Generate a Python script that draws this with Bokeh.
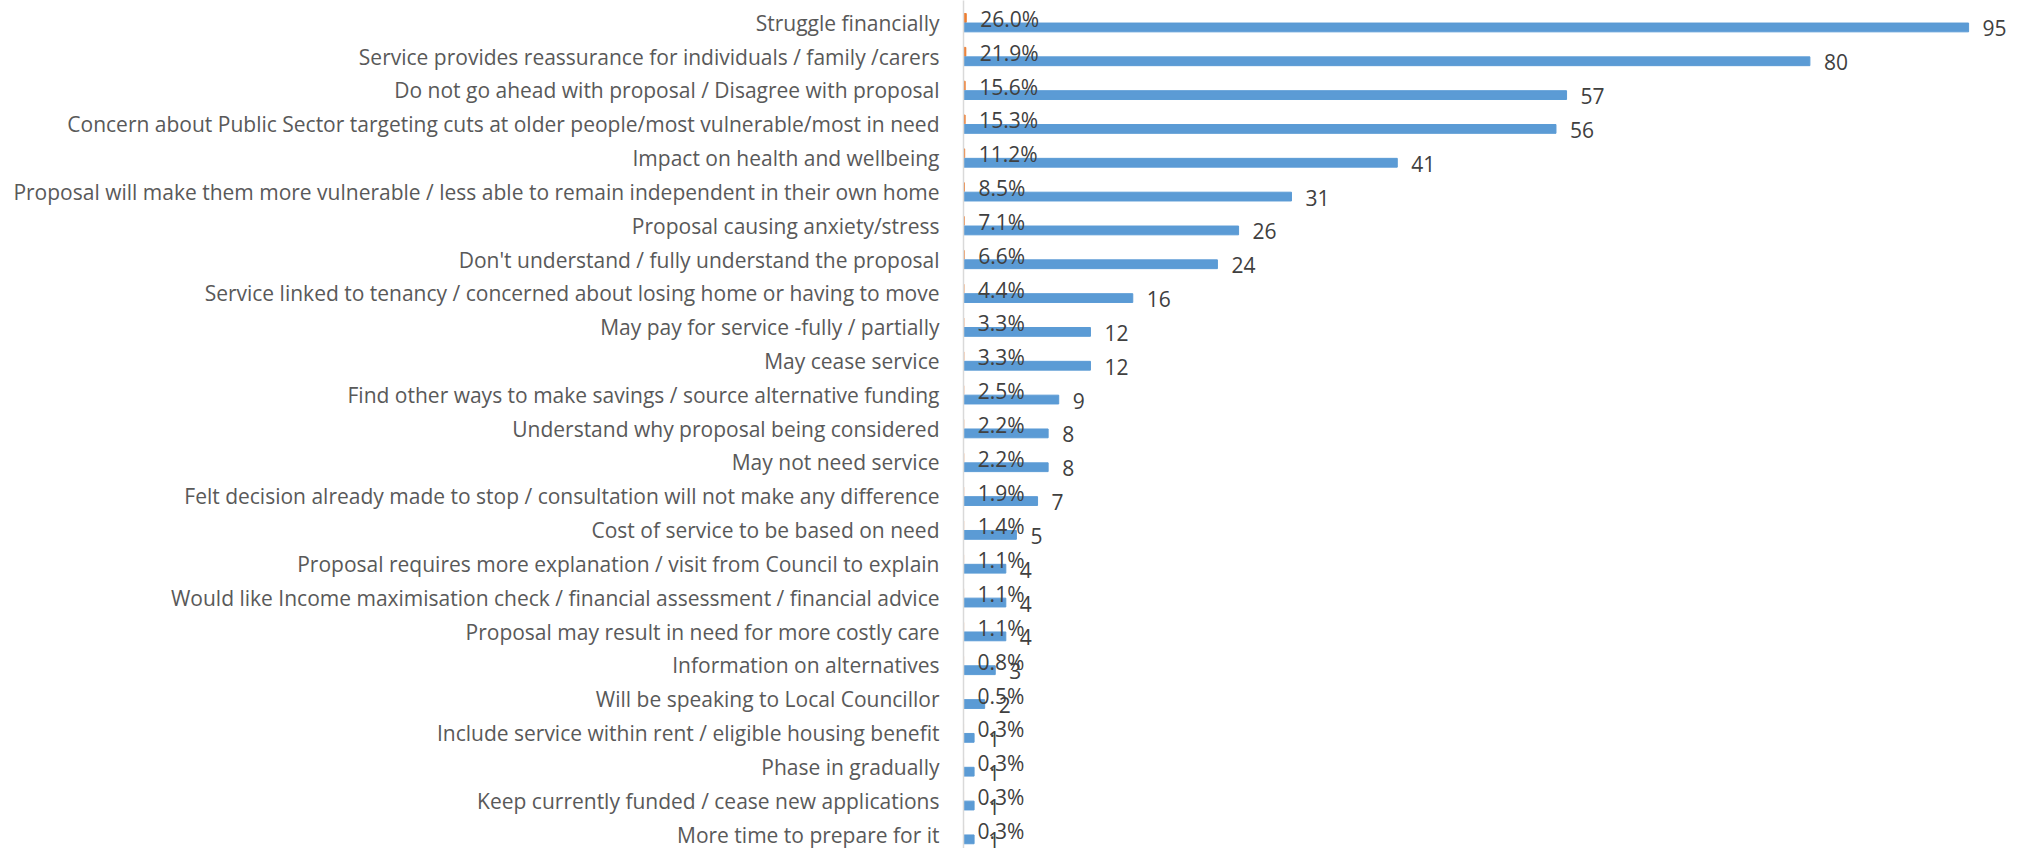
from bokeh.plotting import figure
from bokeh.models import ColumnDataSource, Range1d, FixedTicker
from bokeh.core.properties import value
from bokeh.embed import file_html
from bokeh.resources import INLINE

categories = [
    "Struggle financially",
    "Service provides reassurance for individuals / family /carers",
    "Do not go ahead with proposal / Disagree with proposal",
    "Concern about Public Sector targeting cuts at older people/most vulnerable/most in need",
    "Impact on health and wellbeing",
    "Proposal will make them more vulnerable / less able to remain independent in their own home",
    "Proposal causing anxiety/stress",
    "Don't understand / fully understand the proposal",
    "Service linked to tenancy / concerned about losing home or having to move",
    "May pay for service -fully / partially",
    "May cease service",
    "Find other ways to make savings / source alternative funding",
    "Understand why proposal being considered",
    "May not need service",
    "Felt decision already made to stop / consultation will not make any difference",
    "Cost of service to be based on need",
    "Proposal requires more explanation / visit from Council to explain",
    "Would like Income maximisation check / financial assessment / financial advice",
    "Proposal may result in need for more costly care",
    "Information on alternatives",
    "Will be speaking to Local Councillor",
    "Include service within rent / eligible housing benefit",
    "Phase in gradually",
    "Keep currently funded / cease new applications",
    "More time to prepare for it",
]
counts = [95, 80, 57, 56, 41, 31, 26, 24, 16, 12, 12, 9, 8, 8, 7, 5, 4, 4, 4, 3, 2, 1, 1, 1, 1]
percents = [0.260, 0.219, 0.156, 0.153, 0.112, 0.085, 0.071, 0.066, 0.044, 0.033, 0.033,
            0.025, 0.022, 0.022, 0.019, 0.014, 0.011, 0.011, 0.011, 0.008, 0.005, 0.003,
            0.003, 0.003, 0.003]

BLUE = "#5B9BD5"
ORANGE = "#ED7D31"

rows = list(range(len(categories)))
off = 0.14
src = ColumnDataSource(dict(
    row=rows,
    y_pct=[r - off for r in rows],
    y_cnt=[r + off for r in rows],
    cnt=counts,
    pct=percents,
    cnt_lbl=[str(c) for c in counts],
    pct_lbl=["%.1f%%" % (p * 100) for p in percents],
))

W, H = 2025, 848
left = 963
pitch = 33.83
y_top = -22.2 / pitch
y_bot = y_top + H / pitch
x_end = (W - left) / 10.58

p = figure(width=W, height=H, output_backend="svg", toolbar_location=None,
           x_range=Range1d(0, x_end), y_range=Range1d(y_bot, y_top),
           min_border_left=left, min_border_right=0, min_border_top=0, min_border_bottom=0)

p.hbar(y="y_pct", right="pct", left=0, height=0.26, color=ORANGE, source=src)
p.hbar(y="y_cnt", right="cnt", left=0, height=0.26, color=BLUE, source=src)

p.text(x="pct", y="y_pct", text="pct_lbl", x_offset=14, y_offset=1, source=src,
       text_font=value("Open Sans"), text_font_size="21px", text_color="#404040",
       text_baseline="middle", text_align="left")
p.text(x="cnt", y="y_cnt", text="cnt_lbl", x_offset=14, y_offset=1, source=src,
       text_font=value("Open Sans"), text_font_size="21px", text_color="#404040",
       text_baseline="middle", text_align="left")

p.xaxis.visible = False
p.xgrid.visible = False
p.ygrid.visible = False
p.outline_line_color = None

ya = p.yaxis[0]
ya.ticker = FixedTicker(ticks=rows)
ya.major_label_overrides = {r: c for r, c in zip(rows, categories)}
ya.major_tick_line_color = None
ya.minor_tick_line_color = None
ya.axis_line_color = "#D9D9D9"
ya.axis_line_width = 1.5
ya.major_label_standoff = 18
ya.major_label_text_font = "Open Sans"
ya.major_label_text_font_size = "21px"
ya.major_label_text_color = "#595959"

open("out.html", "w").write(file_html(p, INLINE))
